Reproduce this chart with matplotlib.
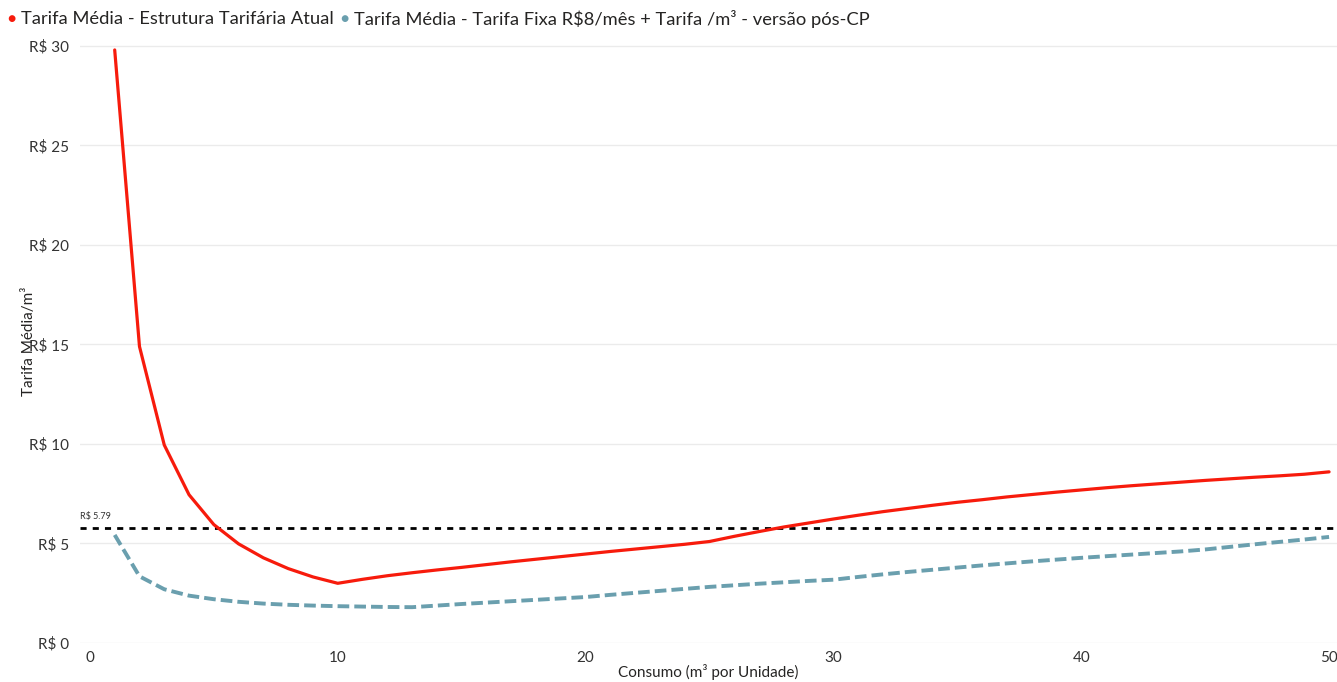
import matplotlib
matplotlib.use("Agg")
import matplotlib.pyplot as plt

plt.rcParams['font.family'] = ['Lato', 'DejaVu Sans']

consumo = list(range(1, 51))
tarifa_atual = [29.8, 14.9, 9.95, 7.45, 5.95, 4.98, 4.28, 3.74, 3.32, 3.0,
                 3.2, 3.38, 3.53, 3.67, 3.8, 3.94, 4.08, 4.21, 4.34, 4.47,
                 4.6, 4.72, 4.84, 4.96, 5.1, 5.36, 5.6, 5.83, 6.03, 6.23,
                 6.42, 6.6, 6.76, 6.92, 7.07, 7.2, 7.34, 7.46, 7.58, 7.69,
                 7.8, 7.9, 7.99, 8.08, 8.17, 8.25, 8.33, 8.4, 8.48, 8.6]
tarifa_pos_cp = [5.43, 3.35, 2.7, 2.38, 2.2, 2.07, 1.98, 1.92, 1.88, 1.85,
                 1.83, 1.81, 1.8, 1.88, 1.96, 2.03, 2.1, 2.17, 2.24, 2.31,
                 2.42, 2.52, 2.62, 2.72, 2.82, 2.9, 2.98, 3.05, 3.12, 3.18,
                 3.32, 3.45, 3.57, 3.68, 3.79, 3.9, 4.0, 4.1, 4.19, 4.28,
                 4.36, 4.44, 4.52, 4.6, 4.7, 4.83, 4.96, 5.08, 5.2, 5.33]
referencia = 5.79
yticks = [0, 5, 10, 15, 20, 25, 30]
ytick_labels = ["R$ 0", "R$ 5", "R$ 10", "R$ 15", "R$ 20", "R$ 25", "R$ 30"]
xticks = [0, 10, 20, 30, 40, 50]
serie_nomes = ["Tarifa Média - Estrutura Tarifária Atual",
               "Tarifa Média - Tarifa Fixa R$8/mês + Tarifa /m³ - versão pós-CP"]

red = "#F71B0C"
teal = "#6A9FAE"

fig = plt.figure(figsize=(13.37, 6.82), dpi=100)
ax = fig.add_axes([80/1337, 1-643/682, 1-80/1337, (643-40)/682])

ax.set_xlim(-0.4, 50.32)
ax.set_ylim(0, 30.3)
for y in yticks:
    ax.axhline(y, color="#EBEBEB", lw=1.0, zorder=0)

ax.plot(consumo, tarifa_atual, color=red, lw=2.3, solid_capstyle='round', zorder=3)
ax.plot(consumo, tarifa_pos_cp, color=teal, lw=2.8, linestyle=(0, (3.0, 1.3)), zorder=3)
ax.axhline(referencia, color="black", lw=2.0, linestyle=(0, (2.2, 2.2)), zorder=2)
ax.text(-0.4, referencia + 0.35, "R$ 5.79", fontsize=6.5, color="#333333",
        ha="left", va="bottom")

for s in ax.spines.values():
    s.set_visible(False)
ax.set_yticks(yticks)
ax.set_yticklabels(ytick_labels)
ax.set_xticks(xticks)
ax.tick_params(length=0, labelsize=11, colors="#333333", pad=8)
ax.tick_params(axis='x', pad=6)
ax.set_xlabel("Consumo (m³ por Unidade)", fontsize=11, color="#252423", labelpad=-1)
ax.set_ylabel("Tarifa Média/m³", fontsize=11, color="#252423", labelpad=-5)

# legend
ly = 1 - 19/682
fig.text(7/1337, ly, "●", color=red, fontsize=10, va="center", ha="left")
fig.text(21/1337, ly, serie_nomes[0], fontsize=13.2, color="#252423", va="center", ha="left")
fig.text(340/1337, ly, "●", color=teal, fontsize=10, va="center", ha="left")
fig.text(354/1337, ly, serie_nomes[1], fontsize=13.2, color="#252423", va="center", ha="left")

fig.savefig("out.png", dpi=100)
